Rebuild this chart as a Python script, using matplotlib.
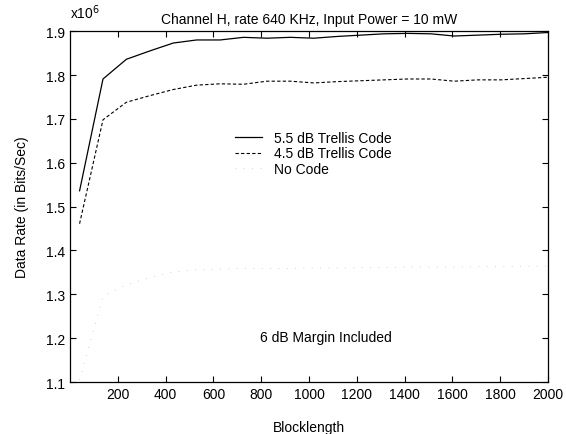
import numpy as np
import matplotlib
matplotlib.use("Agg")
import matplotlib.pyplot as plt

plt.rcParams['font.family'] = ['Liberation Sans', 'DejaVu Sans']

# blocklength values
blocklength = [40, 138, 236, 334, 432, 530, 628, 726, 824, 922, 1020,
               1118, 1216, 1314, 1412, 1510, 1608, 1706, 1804, 1902, 2000]

# data rate in units of 1e6 bits/sec
rate_55db = [1.536, 1.791, 1.836, 1.855, 1.873, 1.880, 1.880, 1.886, 1.884, 1.886, 1.884,
             1.888, 1.891, 1.894, 1.895, 1.894, 1.889, 1.891, 1.893, 1.894, 1.897]
rate_45db = [1.461, 1.698, 1.738, 1.753, 1.767, 1.777, 1.780, 1.779, 1.786, 1.786, 1.782,
             1.785, 1.787, 1.789, 1.791, 1.791, 1.786, 1.789, 1.789, 1.792, 1.795]
rate_nocode = [1.105, 1.295, 1.322, 1.338, 1.351, 1.356, 1.357, 1.359, 1.359, 1.359, 1.360,
               1.360, 1.361, 1.361, 1.362, 1.362, 1.362, 1.363, 1.363, 1.364, 1.364]

fig = plt.figure(figsize=(5.66, 4.35), dpi=100)
ax = fig.add_axes([0.1237, 0.1195, 0.8445, 0.8065])

ax.plot(blocklength, rate_55db, color='black', lw=0.9, label='5.5 dB Trellis Code')
ax.plot(blocklength, rate_45db, color='black', lw=0.8, linestyle=(0, (3, 2)),
        label='4.5 dB Trellis Code')
ax.plot(blocklength, rate_nocode, color='#c4c4c4', lw=0.6, linestyle=(0, (1, 9)),
        label='No Code')

ax.set_xlim(0, 2000)
ax.set_ylim(1.1, 1.9)
ax.set_xticks(np.arange(200, 2001, 200))
ax.set_yticks(np.arange(1.1, 1.91, 0.1))
ax.set_yticklabels([f"{v:.1f}" for v in np.arange(1.1, 1.91, 0.1)])
ax.tick_params(direction='in', top=True, right=True, length=4, width=0.8, labelsize=10)
for s in ax.spines.values():
    s.set_linewidth(0.9)

ax.set_title('Channel H, rate 640 KHz, Input Power = 10 mW', fontsize=10, pad=6)
ax.set_xlabel('Blocklength', fontsize=10, labelpad=14)
ax.set_ylabel('Data Rate (in Bits/Sec)', fontsize=10, labelpad=12)
fig.text(0.123, 0.97, 'x10$^6$', fontsize=10, ha='left', va='center')

ax.text(0.535, 0.128, '6 dB Margin Included', transform=ax.transAxes, fontsize=10,
        ha='center', va='center')

ax.legend(loc='upper left', bbox_to_anchor=(0.33, 0.735), frameon=False, fontsize=10,
          handlelength=2.0, handletextpad=0.8, labelspacing=0.1, borderpad=0)

fig.savefig('out.png', dpi=100)
